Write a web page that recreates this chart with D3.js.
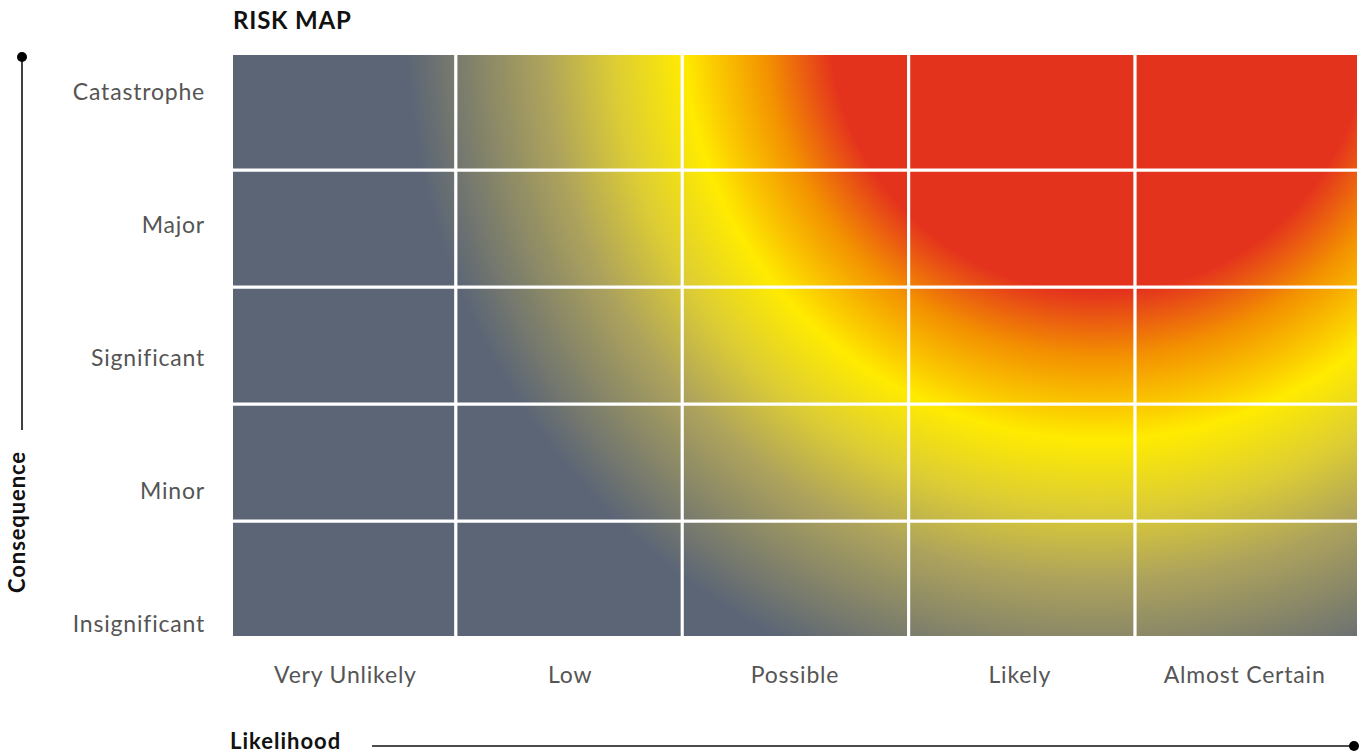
<!DOCTYPE html>
<html>
<head>
<meta charset="utf-8">
<script src="https://cdn.jsdelivr.net/npm/d3@7"></script>
<style>
  html, body { margin: 0; padding: 0; background: #fff; }
  svg { display: block; font-family: Lato, "Open Sans", sans-serif; }
</style>
</head>
<body>
<svg id="chart" width="1365" height="753"></svg>
<script>
// Axis categories
const likelihood = ["Very Unlikely", "Low", "Possible", "Likely", "Almost Certain"];
const consequence = ["Insignificant", "Minor", "Significant", "Major", "Catastrophe"];

// Heat colours from the hottest corner outwards (offset = share of gradient radius)
const heatOffsets = [0, 0.385, 0.478, 0.595, 0.694, 0.794, 0.99];
const heatColors = ["#e4331d", "#e4331d", "#f39200", "#ffeb00", "#ddcd34", "#aea35c", "#5b6576"];

const svg = d3.select("#chart");

// Grid layout
const grid = { x0: 229.5, x1: 1361.5, y0: 53, y1: 638 };
const frame = { x0: 233, x1: 1357, y0: 55, y1: 636 };

const x = d3.scaleBand().domain(likelihood).range([grid.x0, grid.x1]);
const y = d3.scaleBand().domain(consequence.slice().reverse()).range([grid.y0, grid.y1]);

// Label positions
const xLabel = d3.scalePoint().domain(likelihood).range([frame.x0, frame.x1]).padding(0.5);
const yLabel = d3.scalePoint().domain(consequence).range([632, 100]);

// Radial heat gradient, centred above the "Likely" column
const defs = svg.append("defs");
const grad = defs.append("radialGradient")
  .attr("id", "heat")
  .attr("gradientUnits", "userSpaceOnUse")
  .attr("cx", x("Likely") + x.bandwidth() * 0.84)
  .attr("cy", frame.y0 - 32)
  .attr("r", 700);
grad.selectAll("stop")
  .data(heatOffsets)
  .join("stop")
  .attr("offset", d => d)
  .attr("stop-color", (d, i) => heatColors[i]);

defs.append("clipPath").attr("id", "frameClip")
  .append("rect")
  .attr("x", frame.x0).attr("y", frame.y0)
  .attr("width", frame.x1 - frame.x0).attr("height", frame.y1 - frame.y0);

// Cells
const cells = [];
consequence.forEach(c => likelihood.forEach(l => cells.push({ l, c })));

const plot = svg.append("g").attr("clip-path", "url(#frameClip)");
plot.selectAll("rect.cell")
  .data(cells)
  .join("rect")
  .attr("class", "cell")
  .attr("x", d => x(d.l))
  .attr("y", d => y(d.c))
  .attr("width", x.bandwidth())
  .attr("height", y.bandwidth())
  .attr("fill", "url(#heat)")
  .attr("stroke", "#fff")
  .attr("stroke-width", 3);

// Title
svg.append("text")
  .attr("x", 233).attr("y", 29)
  .attr("font-size", 24).attr("font-weight", 700)
  .attr("fill", "#111")
  .attr("letter-spacing", 0.8)
  .text("RISK MAP");

// Consequence labels
svg.append("g").selectAll("text")
  .data(consequence)
  .join("text")
  .attr("x", 205)
  .attr("y", d => yLabel(d))
  .attr("text-anchor", "end")
  .attr("font-size", 23)
  .attr("letter-spacing", 0.8)
  .attr("fill", "#555")
  .text(d => d);

// Likelihood labels
svg.append("g").selectAll("text")
  .data(likelihood)
  .join("text")
  .attr("x", d => xLabel(d))
  .attr("y", 683)
  .attr("text-anchor", "middle")
  .attr("font-size", 23)
  .attr("letter-spacing", 0.8)
  .attr("fill", "#555")
  .text(d => d);

// Vertical axis line with end dot
svg.append("line")
  .attr("x1", 22).attr("x2", 22).attr("y1", 57).attr("y2", 430)
  .attr("stroke", "#111").attr("stroke-width", 1.6);
svg.append("circle").attr("cx", 22).attr("cy", 57).attr("r", 5).attr("fill", "#000");
svg.append("text")
  .attr("transform", "translate(25,522) rotate(-90)")
  .attr("text-anchor", "middle")
  .attr("font-size", 22).attr("font-weight", 700)
  .attr("fill", "#111")
  .attr("letter-spacing", 0.9)
  .text("Consequence");

// Horizontal axis line with end dot
svg.append("text")
  .attr("x", 230).attr("y", 748.5)
  .attr("font-size", 22).attr("font-weight", 700)
  .attr("fill", "#111")
  .attr("letter-spacing", 1.0)
  .text("Likelihood");
svg.append("line")
  .attr("x1", 372).attr("x2", 1354).attr("y1", 746).attr("y2", 746)
  .attr("stroke", "#111").attr("stroke-width", 1.6);
svg.append("circle").attr("cx", 1354).attr("cy", 746).attr("r", 5).attr("fill", "#000");
</script>
</body>
</html>
